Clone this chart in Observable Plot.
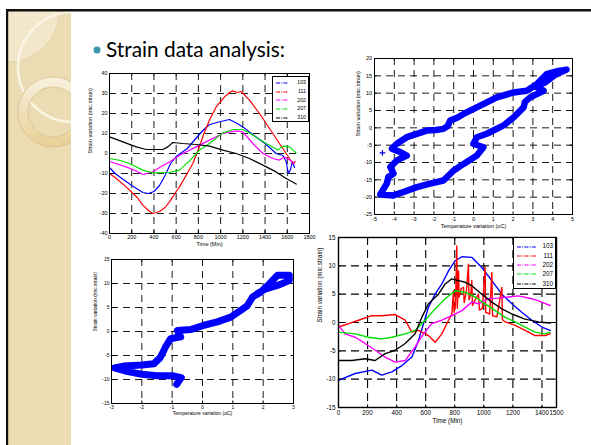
<!DOCTYPE html>
<html><head><meta charset="utf-8">
<script src="https://cdn.jsdelivr.net/npm/d3@7"></script>
<script src="https://cdn.jsdelivr.net/npm/@observablehq/plot@0.6"></script>
<style>
html,body{margin:0;padding:0;background:#fff;}
#slide{position:relative;width:591px;height:445px;overflow:hidden;background:#fff;font-family:"Liberation Sans",Arial,sans-serif;}
#slide svg.plotsvg{position:absolute;overflow:visible;}
.legend{position:absolute;background:#fff;border:1px solid #000;box-sizing:border-box;font-family:"Liberation Sans",Arial,sans-serif;color:#000;}
.legend .row{position:absolute;left:0;right:0;height:8px;}
.legend .row svg{position:absolute;top:0;}
.legend .row span{position:absolute;right:2px;line-height:1;}
</style></head><body>
<div id="slide">
<svg width="591" height="445" style="position:absolute;left:0;top:0">
  <defs>
    <clipPath id="panel"><rect x="8" y="11" width="63" height="434"/></clipPath>
    <pattern id="chk" width="3" height="3" patternUnits="userSpaceOnUse">
      <rect width="3" height="3" fill="#f1e5c6"/><rect width="1.5" height="1.5" fill="#f6eed8"/>
    </pattern>
    <linearGradient id="ringg" x1="0" y1="0" x2="0" y2="1">
      <stop offset="0" stop-color="#f8f1df"/><stop offset="1" stop-color="#e9cf94"/>
    </linearGradient>
  </defs>
  <rect x="8" y="11" width="63" height="434" fill="#ecdcb4"/>
  <g clip-path="url(#panel)">
    <circle cx="8" cy="11" r="51" fill="url(#chk)" stroke="#dcc9a0" stroke-width="0.6"/>
    <circle cx="73" cy="67" r="55" fill="none" stroke="#fbf5e4" stroke-width="2.5"/>
    <path d="M53,77 a35,35 0 1,0 0.01,0 Z M53,87 a25,25 0 1,1 -0.01,0 Z" fill="url(#ringg)" fill-rule="evenodd" stroke="#d3ba86" stroke-width="0.7"/>
  </g>
  <rect x="6" y="9" width="585" height="2.5" fill="#111"/>
  <rect x="6" y="9" width="2.2" height="436" fill="#111"/>
  <circle cx="97" cy="50" r="3.5" fill="#3d97ab"/>
  <text x="106" y="57" font-family="Lato, 'Open Sans', sans-serif" font-size="22" fill="#000" textLength="179" lengthAdjust="spacingAndGlyphs">Strain data analysis:</text>
</svg>
</div>
<script>
const names = ["103", "111", "202", "207", "310"];
const colors = ["#0000ff", "#ff0000", "#ff00ff", "#00dd00", "#000000"];

// ---------- Plot 1: strain vs time ----------
const p1_xTicks = [0, 200, 400, 600, 800, 1000, 1200, 1400, 1600, 1800];
const p1_yTicks = [-40, -30, -20, -10, 0, 10, 20, 30, 40];
const p1_s103 = [[0,-7],[50,-10],[100,-12],[200,-16],[300,-19.5],[350,-20],[400,-19],[450,-16],[500,-11],[550,-5],[600,-1.5],[700,2.5],[800,9],[850,12],[900,14.5],[1000,16],[1080,17],[1150,15],[1200,13.3],[1300,9],[1400,5],[1500,0],[1560,-1],[1590,-4],[1610,-10],[1630,-8],[1645,-4],[1665,-7]];
const p1_s111 = [[0,-10],[50,-12],[150,-16.7],[250,-22],[300,-25.8],[350,-28.5],[390,-30],[450,-29],[500,-27],[540,-24.2],[600,-19],[630,-16.7],[700,-10],[750,-5],[800,2],[850,10],[900,16.7],[960,23.3],[1035,28.3],[1080,30.5],[1110,31.3],[1150,30.5],[1185,31],[1260,26.7],[1350,20],[1440,12.5],[1530,5],[1590,0],[1650,-5],[1670,-4]];
const p1_s202 = [[0,-4],[150,-6.7],[250,-9],[300,-10.5],[390,-9.2],[450,-7],[540,-4.2],[600,-2],[660,0],[780,3.3],[900,6.7],[1020,10],[1140,11.3],[1200,10.8],[1290,5],[1380,0],[1470,-2.5],[1530,-3.3],[1575,-1.7],[1635,-3.7],[1665,-5]];
const p1_s207 = [[0,-2.5],[100,-3.5],[180,-5],[300,-8.3],[390,-9.7],[540,-9.5],[630,-8.3],[720,-3.7],[810,1.7],[900,5],[1020,10.3],[1110,12],[1200,12],[1290,9.2],[1410,5],[1515,1.7],[1560,3.7],[1620,3.3],[1680,0.3]];
const p1_s310 = [[0,8.3],[120,5.8],[240,3.3],[330,2],[480,2],[525,3.3],[570,5.5],[660,5],[780,4.5],[900,3.7],[1020,1.7],[1140,0],[1260,-2.5],[1380,-5.8],[1500,-9.2],[1590,-12.5],[1680,-15.3]];

// ---------- Plot 2: strain vs temperature (loop) ----------
const p2_xTicks = [-5, -4, -3, -2, -1, 0, 1, 2, 3, 4, 5];
const p2_yTicks = [-25, -20, -15, -10, -5, 0, 5, 10, 15, 20];
const p2_loop = [[-3.87,-4.6],[-3.37,-2.7],[-2.9,-1.8],[-2.36,-0.8],[-1.9,-0.6],[-1.52,-0.3],[-1.3,0.5],[-1.18,2.1],[-0.8,3.0],[-0.5,4.0],[0.34,6.4],[1.18,8.8],[2.02,10.2],[2.69,10.7],[3.2,12.6],[3.7,15.5],[4.2,16.3],[4.55,16.6],[4.7,16.8],[4.1,15.2],[3.6,13],[3.1,12],[3.54,10.7],[2.86,8.8],[2.6,7.5],[2.53,5.9],[2.02,3.0],[1.52,0.7],[0.67,-1.7],[0.17,-2.7],[0.0,-4.6],[0.5,-5.6],[0.17,-8.0],[-0.5,-10.4],[-1.0,-12.3],[-1.52,-15.2],[-2.19,-16.1],[-2.86,-17.1],[-3.54,-18.5],[-4.04,-19.5],[-4.71,-19.2],[-4.38,-16.1],[-4.3,-14.2],[-4.04,-13.2],[-4.2,-11.3],[-3.87,-9.4],[-3.37,-8.0],[-3.7,-7.0],[-4.12,-6.0],[-3.87,-4.6]];
const p2_outlier = [[-4.6,-7.2]];

// ---------- Plot 3: strain vs temperature ----------
const p3_xTicks = [-3, -2, -1, 0, 1, 2, 3];
const p3_yTicks = [-15, -10, -5, 0, 5, 10, 15];
const p3_path = [[-0.85,-11],[-0.7,-9.6],[-1.0,-9.2],[-1.5,-9.2],[-2.0,-8.9],[-2.5,-8.3],[-2.9,-7.6],[-2.6,-7.2],[-2.0,-7.0],[-1.6,-6.7],[-1.4,-5.5],[-1.3,-4.3],[-1.22,-3.2],[-1.05,-1.5],[-0.72,-1.1],[-0.83,0.2],[-0.39,0.4],[0.05,1.3],[0.49,2.0],[0.93,3.0],[1.26,4.4],[1.48,5.4],[1.65,7.2],[1.92,8.2],[2.2,9.9],[2.47,11.7],[2.86,11.7],[2.86,10.6],[2.47,9.6],[2.09,8.9],[1.81,7.9]];

// ---------- Plot 4: strain vs time ----------
const p4_xTicks = [0, 200, 400, 600, 800, 1000, 1200, 1400, 1500];
const p4_yTicks = [-15, -10, -5, 0, 5, 10, 15];
const p4_s103 = [[0,-10.2],[115,-9],[229,-8.4],[298,-9.3],[367,-8.7],[436,-7.6],[505,-6.1],[550,-3.2],[585,-0.2],[619,2.7],[665,5],[711,6.8],[757,9.1],[803,10.9],[849,11.6],[917,11.5],[986,9.7],[1055,7.4],[1124,5],[1193,3.3],[1261,1.8],[1330,0.4],[1399,-0.8],[1456,-1.4]];
const p4_s111 = [[0,-0.8],[69,-0.2],[138,0.4],[229,1.2],[298,1.2],[390,1.4],[459,0.4],[505,-1.7],[550,-1.4],[619,-2.3],[665,-3.5],[711,-2.0],[757,0.4],[780,1.5],[791,5.6],[795,1.8],[805,3],[814,13.5],[818,2.5],[826,9.1],[830,4.5],[845,6],[860,6.2],[865,3.5],[880,5.5],[894,10.3],[898,4],[910,5],[917,7.4],[922,3],[940,4],[963,5],[970,2.2],[990,2.5],[1009,9.7],[1013,1.8],[1040,1.5],[1055,8.8],[1060,1.2],[1090,1],[1124,6.2],[1128,0.5],[1147,0.1],[1216,-0.5],[1284,-1.4],[1353,-2.3],[1422,-2.3],[1456,-2]];
const p4_s202 = [[0,-0.5],[46,-2],[115,-2.6],[183,-3.7],[252,-4.9],[321,-6.1],[390,-7.0],[459,-6.7],[527,-4.3],[585,-2],[642,-0.2],[711,0.4],[780,1.2],[849,2.1],[917,3.6],[963,3.3],[1032,4.2],[1101,4.3],[1170,4.5],[1239,4.7],[1330,4.2],[1399,3.6],[1456,3]];
const p4_s207 = [[0,-1.7],[115,-2],[206,-2.6],[298,-2.9],[367,-2.6],[459,-2],[527,-1.4],[596,0.4],[665,2.4],[734,4.2],[803,5.6],[872,5.3],[940,4.5],[1009,3.3],[1078,2.1],[1147,0.9],[1216,0.1],[1284,-0.8],[1353,-1.7],[1422,-2],[1456,-1.7]];
const p4_s310 = [[0,-6.7],[92,-6.7],[183,-6.4],[252,-6.7],[321,-5.5],[390,-4.9],[459,-3.7],[527,-2],[573,0.9],[619,3.3],[688,5],[734,6.8],[780,7.7],[826,7.4],[872,7.1],[917,6.5],[986,5],[1055,3.6],[1124,2.4],[1193,1.5],[1284,0.6],[1376,0.1],[1456,-0.1]];

const FONT = "'Liberation Sans', Arial, sans-serif";
const slide = document.getElementById("slide");

function chart(o) {
  const [x0, x1] = o.xDomain, [y0, y1] = o.yDomain;
  const tkY = (y1 - y0) * o.tick / o.fh, tkX = (x1 - x0) * o.tick / o.fw;
  const inner = (arr, lo, hi) => arr.filter(v => v > lo && v < hi);
  const gx = inner(o.xTicks, x0, x1), gy = inner(o.yTicks, y0, y1);
  const fmt = d => String(d);
  const p = Plot.plot({
    width: o.mL + o.fw + o.mR, height: o.mT + o.fh + o.mB,
    marginLeft: o.mL, marginRight: o.mR, marginTop: o.mT, marginBottom: o.mB,
    x: {domain: o.xDomain}, y: {domain: o.yDomain},
    style: {fontFamily: FONT, fontSize: o.fs + "px", background: "transparent", overflow: "visible"},
    marks: [
      Plot.ruleX(gx, {x: d => d, stroke: "#000", strokeWidth: o.gw, strokeDasharray: o.dash}),
      Plot.ruleY(gy, {y: d => d, stroke: "#000", strokeWidth: o.gw, strokeDasharray: o.dash}),
      ...o.marks,
      Plot.ruleX(o.xTicks, {x: d => d, y1: y0, y2: y0 + tkY, stroke: "#000"}),
      Plot.ruleX(o.xTicks, {x: d => d, y1: y1, y2: y1 - tkY, stroke: "#000"}),
      Plot.ruleY(o.yTicks, {y: d => d, x1: x0, x2: x0 + tkX, stroke: "#000"}),
      Plot.ruleY(o.yTicks, {y: d => d, x1: x1, x2: x1 - tkX, stroke: "#000"}),
      Plot.frame({stroke: "#000", strokeWidth: o.fsw}),
      Plot.axisX(o.xTicks, {tickSize: 0, tickPadding: o.xpad, tickFormat: fmt, fontSize: o.fs, label: null}),
      Plot.axisY(o.yTicks, {tickSize: 0, tickPadding: o.ypad, tickFormat: fmt, fontSize: o.fs, label: null}),
      Plot.text([o.xLabel], {text: d => d, frameAnchor: "bottom", dy: o.xlOff, fontSize: o.lfs}),
      Plot.text([o.yLabel], {text: d => d, frameAnchor: "left", dx: -o.ylOff, rotate: -90, fontSize: o.lfs})
    ]
  });
  p.classList.add("plotsvg");
  p.style.left = (o.left - o.mL) + "px";
  p.style.top = (o.top - o.mT) + "px";
  slide.appendChild(p);
}

const lineMarks = (list, sw) => list.map((s, i) => Plot.line(s, {x: d => d[0], y: d => d[1], stroke: colors[i], strokeWidth: sw}));

function legend(o) {
  const div = document.createElement("div");
  div.className = "legend";
  Object.assign(div.style, {left: o.left + "px", top: o.top + "px", width: o.w + "px", height: o.h + "px", fontSize: o.fs + "px", borderWidth: o.bw + "px"});
  names.forEach((n, i) => {
    const row = document.createElement("div");
    row.className = "row";
    row.style.top = (o.r0 + i * o.dr - 4) + "px";
    row.innerHTML = `<svg width="${o.sw + 2}" height="8" style="left:${o.sx}px"><line x1="1" x2="${o.sw + 1}" y1="4" y2="4" stroke="${colors[i]}" stroke-width="1" stroke-dasharray="4,1.2,1,1.2"/></svg><span style="top:${4 - o.fs * 0.5}px">${n}</span>`;
    div.appendChild(row);
  });
  slide.appendChild(div);
}

const yLab = "Strain variation (mic.strain)";

chart({left: 109, top: 73, fw: 200, fh: 160, mL: 30, mT: 8, mR: 8, mB: 24,
  xDomain: [0, 1800], yDomain: [-40, 40], xTicks: p1_xTicks, yTicks: p1_yTicks,
  fs: 5.5, lfs: 5.5, xpad: 2, ypad: 2, xlOff: 12.7, ylOff: 19, tick: 2.5, gw: 0.9, dash: "7,5", fsw: 1,
  xLabel: "Time (Min)", yLabel: yLab,
  marks: lineMarks([p1_s103, p1_s111, p1_s202, p1_s207, p1_s310], 1.2)});
legend({left: 272, top: 76, w: 37, h: 46, fs: 5.2, bw: 1, r0: 6, dr: 8.7, sx: 2, sw: 12});

chart({left: 374, top: 58, fw: 198, fh: 156, mL: 28, mT: 6, mR: 8, mB: 22,
  xDomain: [-5, 5], yDomain: [-25, 20], xTicks: p2_xTicks, yTicks: p2_yTicks,
  fs: 5.5, lfs: 5.5, xpad: 3, ypad: 2.5, xlOff: 13.5, ylOff: 16, tick: 2.5, gw: 0.9, dash: "7,5", fsw: 1,
  xLabel: "Temperature variation (oC)", yLabel: yLab,
  marks: [
    Plot.line(p2_loop, {x: d => d[0], y: d => d[1], stroke: "#0000ff", strokeWidth: 6.5, strokeLinejoin: "round", strokeLinecap: "round"}),
    Plot.dot(p2_outlier, {x: d => d[0], y: d => d[1], symbol: "plus", r: 2, stroke: "#0000ff", strokeWidth: 1.2})
  ]});

chart({left: 111, top: 259, fw: 182, fh: 144, mL: 26, mT: 6, mR: 8, mB: 20,
  xDomain: [-3, 3], yDomain: [-15, 15], xTicks: p3_xTicks, yTicks: p3_yTicks,
  fs: 5, lfs: 5, xpad: 2, ypad: 2, xlOff: 11, ylOff: 16, tick: 2.5, gw: 0.9, dash: "7,5", fsw: 1,
  xLabel: "Temperature variation (oC)", yLabel: "Strain variation (mic.strain)",
  marks: [
    Plot.line(p3_path, {x: d => d[0], y: d => d[1], stroke: "#0000ff", strokeWidth: 7, strokeLinejoin: "round", strokeLinecap: "round"})
  ]});

chart({left: 338, top: 237, fw: 218, fh: 170, mL: 30, mT: 6, mR: 8, mB: 24,
  xDomain: [0, 1500], yDomain: [-15, 15], xTicks: p4_xTicks, yTicks: p4_yTicks,
  fs: 6.3, lfs: 6.3, xpad: 3.5, ypad: 3, xlOff: 15.5, ylOff: 19, tick: 2.5, gw: 1.1, dash: "8,5", fsw: 1.4,
  xLabel: "Time (Min)", yLabel: yLab,
  marks: lineMarks([p4_s103, p4_s111, p4_s202, p4_s207, p4_s310], 1.4)});
legend({left: 513, top: 237, w: 43, h: 52, fs: 6.3, bw: 1.5, r0: 8.5, dr: 9.3, sx: 2, sw: 20});
</script>
</body></html>
